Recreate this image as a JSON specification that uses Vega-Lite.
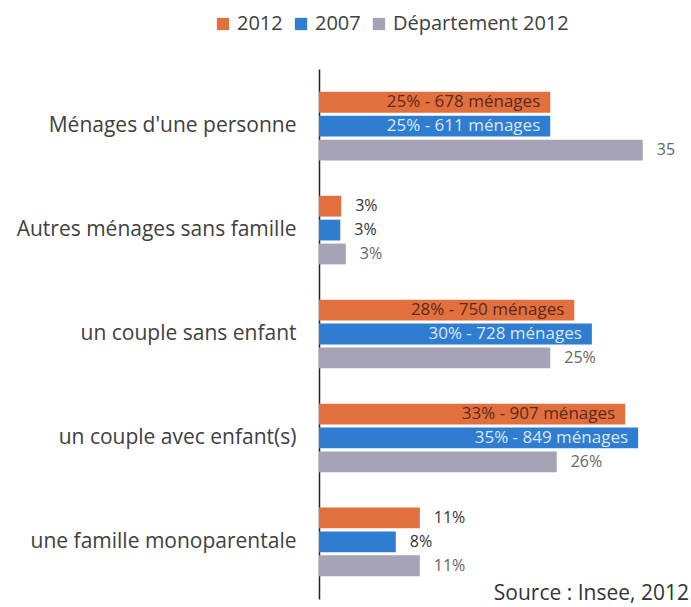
{
  "$schema": "https://vega.github.io/schema/vega-lite/v6.json",
  "autosize": {"type": "none"},
  "padding": {"left": 319, "top": 69, "right": 2, "bottom": 8},
  "width": 370,
  "height": 530,
  "config": {
    "view": {"stroke": null},
    "font": "Open Sans"
  },
  "title": {
    "text": "Source : Insee, 2012",
    "orient": "bottom",
    "anchor": "end",
    "fontSize": 21,
    "fontWeight": "normal",
    "color": "#333333",
    "font": "Open Sans",
    "offset": -16
  },
  "data": {
    "values": [
      {"cat": "Ménages d'une personne", "series": "2012", "value": 25, "label": "25% - 678 ménages", "inside": true},
      {"cat": "Ménages d'une personne", "series": "2007", "value": 25, "label": "25% - 611 ménages", "inside": true},
      {"cat": "Ménages d'une personne", "series": "Département 2012", "value": 35, "label": "35", "inside": false},
      {"cat": "Autres ménages sans famille", "series": "2012", "value": 2.4, "label": "3%", "inside": false},
      {"cat": "Autres ménages sans famille", "series": "2007", "value": 2.3, "label": "3%", "inside": false},
      {"cat": "Autres ménages sans famille", "series": "Département 2012", "value": 2.9, "label": "3%", "inside": false},
      {"cat": "un couple sans enfant", "series": "2012", "value": 27.6, "label": "28% - 750 ménages", "inside": true},
      {"cat": "un couple sans enfant", "series": "2007", "value": 29.5, "label": "30% - 728 ménages", "inside": true},
      {"cat": "un couple sans enfant", "series": "Département 2012", "value": 25, "label": "25%", "inside": false},
      {"cat": "un couple avec enfant(s)", "series": "2012", "value": 33.1, "label": "33% - 907 ménages", "inside": true},
      {"cat": "un couple avec enfant(s)", "series": "2007", "value": 34.5, "label": "35% - 849 ménages", "inside": true},
      {"cat": "un couple avec enfant(s)", "series": "Département 2012", "value": 25.7, "label": "26%", "inside": false},
      {"cat": "une famille monoparentale", "series": "2012", "value": 10.9, "label": "11%", "inside": false},
      {"cat": "une famille monoparentale", "series": "2007", "value": 8.3, "label": "8%", "inside": false},
      {"cat": "une famille monoparentale", "series": "Département 2012", "value": 10.9, "label": "11%", "inside": false}
    ]
  },
  "encoding": {
    "y": {
      "field": "cat",
      "type": "nominal",
      "sort": null,
      "scale": {"paddingInner": 0.34, "paddingOuter": 0.22},
      "axis": {
        "title": null,
        "ticks": false,
        "labelFontSize": 21,
        "labelColor": "#404040",
        "labelPadding": 23,
        "labelLimit": 400,
        "domainColor": "#222222",
        "domainWidth": 1.5,
        "grid": false
      }
    },
    "yOffset": {
      "field": "series",
      "type": "nominal",
      "sort": ["2012", "2007", "Département 2012"],
      "scale": {"paddingInner": 0.13, "paddingOuter": 0}
    },
    "x": {
      "field": "value",
      "type": "quantitative",
      "scale": {"domain": [0, 40]},
      "axis": null
    }
  },
  "layer": [
    {
      "mark": {"type": "bar"},
      "encoding": {
        "color": {
          "field": "series",
          "type": "nominal",
          "scale": {
            "domain": ["2012", "2007", "Département 2012"],
            "range": ["#E2703F", "#2E7DD1", "#A5A3B5"]
          },
          "legend": {
            "title": null,
            "orient": "none",
            "legendX": -106,
            "legendY": -55,
            "direction": "horizontal",
            "symbolType": "square",
            "symbolSize": 150,
            "symbolStrokeWidth": 0,
            "labelFontSize": 20,
            "labelColor": "#404040",
            "labelOffset": 4,
            "labelLimit": 400,
            "columnPadding": 8
          }
        }
      }
    },
    {
      "transform": [{"filter": "datum.inside"}],
      "mark": {"type": "text", "align": "right", "baseline": "middle", "dx": -10, "fontSize": 17},
      "encoding": {
        "text": {"field": "label"},
        "color": {
          "condition": {"test": "datum.series === '2012'", "value": "#5a2a18"},
          "value": "#dbe7f5"
        }
      }
    },
    {
      "transform": [{"filter": "!datum.inside"}],
      "mark": {"type": "text", "align": "left", "baseline": "middle", "dx": 14, "fontSize": 16},
      "encoding": {
        "text": {"field": "label"},
        "color": {
          "condition": {"test": "datum.series === 'Département 2012'", "value": "#666666"},
          "value": "#333333"
        }
      }
    }
  ]
}
